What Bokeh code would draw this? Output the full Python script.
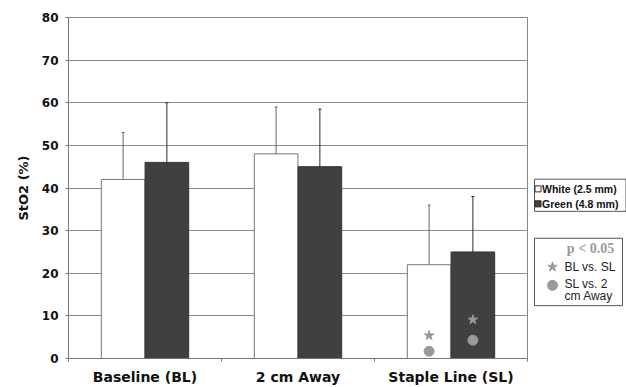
from bokeh.plotting import figure
from bokeh.models import Range1d, FixedTicker, ColumnDataSource, Whisker, TeeHead
from bokeh.layouts import row
from bokeh.embed import file_html
from bokeh.resources import INLINE
from bokeh.core.properties import value

# ---------------- data ----------------
categories = ["Baseline (BL)", "2 cm Away", "Staple Line (SL)"]
series_names = ["White (2.5 mm)", "Green (4.8 mm)"]
white_mean = [42, 48, 22]
white_sd = [11, 11, 14]
green_mean = [46, 45, 25]
green_sd = [14, 13.5, 13]
# significance markers at the Staple Line group (white bar, green bar)
star_values = [5.4, 9.1]
circle_values = [1.7, 4.3]
marker_category = 2
y_ticks = [0, 10, 20, 30, 40, 50, 60, 70, 80]
y_label = "StO2 (%)"
sig_title = "p < 0.05"
sig_labels = ["BL vs. SL", "SL vs. 2\ncm Away"]

# ---------------- styling ----------------
FONT_B = "DejaVu Sans"
WHITE_FILL = "#ffffff"
WHITE_LINE = "#777777"
DARK_FILL = "#404040"
DARK_LINE = "#333333"
GRID = "#8a8a8a"
MARK = "#9a9a9a"
BAR_W = 0.285
OFF = 0.143

p = figure(width=533, height=387, x_range=Range1d(0, 3), y_range=Range1d(0, 80),
           toolbar_location=None, output_backend="svg",
           min_border_left=68, min_border_right=6, min_border_top=17, min_border_bottom=27)
p.background_fill_color = "white"
p.border_fill_color = "white"
p.outline_line_color = "#888888"
p.outline_line_width = 1

centers = [i + 0.5 for i in range(len(categories))]
x_white = [c - OFF for c in centers]
x_green = [c + OFF for c in centers]

src_w = ColumnDataSource(dict(x=x_white, top=white_mean,
                              upper=[m + s for m, s in zip(white_mean, white_sd)],
                              lower=[m - s for m, s in zip(white_mean, white_sd)]))
src_g = ColumnDataSource(dict(x=x_green, top=green_mean,
                              upper=[m + s for m, s in zip(green_mean, green_sd)],
                              lower=[m - s for m, s in zip(green_mean, green_sd)]))

p.vbar(x="x", top="top", bottom=0, width=BAR_W, source=src_w,
       fill_color=WHITE_FILL, line_color=WHITE_LINE, line_width=1)
p.vbar(x="x", top="top", bottom=0, width=BAR_W, source=src_g,
       fill_color=DARK_FILL, line_color=DARK_LINE, line_width=1)

for src, col in ((src_w, "#666666"), (src_g, "#2a2a2a")):
    w = Whisker(base="x", upper="upper", lower="lower", source=src, dimension="height",
                line_color=col, line_width=1,
                upper_head=TeeHead(size=3, line_color=col, line_width=1),
                lower_head=TeeHead(size=3, line_color=col, line_width=1))
    p.add_layout(w)

mx = [x_white[marker_category], x_green[marker_category]]
p.scatter(x=mx, y=star_values, marker="star", size=10, fill_color=MARK, line_color=MARK)
p.scatter(x=mx, y=circle_values, marker="circle", size=10, fill_color=MARK, line_color=MARK)

# axes
p.xgrid.grid_line_color = None
p.ygrid.ticker = FixedTicker(ticks=y_ticks)
p.ygrid.grid_line_color = GRID
p.ygrid.grid_line_width = 1
p.yaxis.ticker = FixedTicker(ticks=y_ticks)
p.yaxis.axis_line_color = "#777777"
p.yaxis.major_tick_line_color = "#777777"
p.yaxis.major_tick_out = 3
p.yaxis.major_tick_in = 0
p.yaxis.minor_tick_line_color = None
p.yaxis.major_label_standoff = 7
p.yaxis.major_label_text_font = FONT_B
p.yaxis.major_label_text_font_style = "bold"
p.yaxis.major_label_text_font_size = "12px"
p.yaxis.major_label_text_color = "#111111"
p.yaxis.axis_label = y_label
p.yaxis.axis_label_text_font = FONT_B
p.yaxis.axis_label_text_font_style = "bold"
p.yaxis.axis_label_text_font_size = "13px"
p.yaxis.axis_label_text_color = "#111111"
p.yaxis.axis_label_standoff = 8

p.xaxis.ticker = FixedTicker(ticks=centers, minor_ticks=[0, 1, 2, 3])
p.xaxis.major_label_overrides = {c: n for c, n in zip(centers, categories)}
p.xaxis.axis_line_color = "#777777"
p.xaxis.major_tick_line_color = None
p.xaxis.major_tick_out = 0
p.xaxis.major_tick_in = 0
p.xaxis.minor_tick_line_color = "#777777"
p.xaxis.minor_tick_out = 3
p.xaxis.minor_tick_in = 0
p.xaxis.major_label_standoff = 7
p.xaxis.major_label_text_font = FONT_B
p.xaxis.major_label_text_font_style = "bold"
p.xaxis.major_label_text_font_size = "14px"
p.xaxis.major_label_text_color = "#111111"

# ---------------- legend panel (page coordinates) ----------------
lg = figure(width=93, height=387, x_range=Range1d(533, 626), y_range=Range1d(387, 0),
            toolbar_location=None, output_backend="svg", x_axis_type=None, y_axis_type=None,
            min_border=0)
lg.grid.grid_line_color = None
lg.outline_line_color = None
lg.background_fill_color = "white"
lg.border_fill_color = "white"

# box 1: series legend
lg.quad(left=[534], right=[625.5], top=[183.5], bottom=[220], fill_color="white",
        line_color="#555555", line_width=1)
ys1 = [194.5, 211.5]
lg.scatter(x=[537.5, 537.5], y=ys1, marker="square", size=6,
           fill_color=[WHITE_FILL, DARK_FILL], line_color=["#333333", "#222222"])
lg.text(x=[541.5, 541.5], y=ys1, text=series_names, text_baseline="middle",
        text_font=value("Liberation Sans"), text_font_style="bold",
        text_font_size="10.5px", text_color="#111111")

# box 2: significance legend
lg.quad(left=[534], right=[622], top=[250.5], bottom=[327], fill_color="white",
        line_color="#555555", line_width=1)
lg.text(x=[590], y=[262], text=[sig_title], text_align="center", text_baseline="middle",
        text_font=value("Liberation Serif"), text_font_style="bold",
        text_font_size="14px", text_color="#9a9a9a")
lg.scatter(x=[552], y=[283], marker="star", size=10, fill_color=MARK, line_color=MARK)
lg.scatter(x=[552], y=[304], marker="circle", size=10, fill_color=MARK, line_color=MARK)
line_y = [[283], [302, 316]]
for lab, ys in zip(sig_labels, line_y):
    parts = lab.split("\n")
    lg.text(x=[564] * len(parts), y=ys, text=parts, text_baseline="middle",
            text_font=value("Liberation Sans"), text_font_size="12px",
            text_color="#222222")

layout = row(p, lg)
open("out.html", "w").write(file_html(layout, INLINE))
